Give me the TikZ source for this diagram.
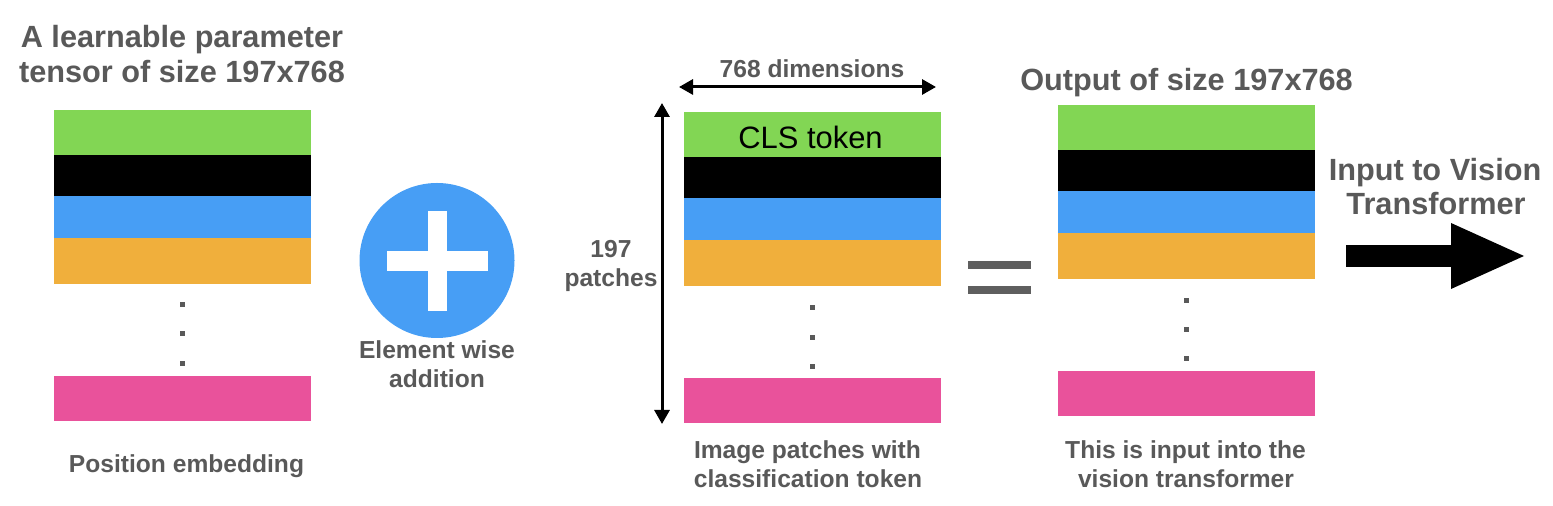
\documentclass[tikz,border=0pt]{standalone}
\usepackage{fontspec}
\setmainfont{Liberation Sans}
\usepackage{tikz}
\usetikzlibrary{arrows.meta}
\pgfdeclarelayer{edgelayer}
\pgfdeclarelayer{nodelayer}
\pgfsetlayers{edgelayer,nodelayer,main}
\definecolor{bandgreen}{RGB}{130,214,84}
\definecolor{bandblue}{RGB}{71,158,245}
\definecolor{bandorange}{RGB}{240,175,60}
\definecolor{bandpink}{RGB}{233,82,155}
\definecolor{labelgrey}{RGB}{89,89,89}
\definecolor{equalgrey}{RGB}{95,95,95}
\tikzstyle{none} = [inner sep=0pt]
\tikzstyle{title} = [anchor=base, inner sep=0pt, text=labelgrey, font=\bfseries\fontsize{8.73}{10}\selectfont]
\tikzstyle{caption} = [anchor=base, inner sep=0pt, text=labelgrey, font=\bfseries\fontsize{7}{8}\selectfont]
\tikzstyle{cls} = [anchor=base, inner sep=0pt, text=black, font=\fontsize{8.8}{10}\selectfont]
\tikzstyle{band} = [rectangle, inner sep=0pt, minimum width=2.57cm]
\tikzstyle{green band} = [band, fill=bandgreen, minimum height=0.45cm]
\tikzstyle{black band} = [band, fill=black, minimum height=0.41cm]
\tikzstyle{blue band} = [band, fill=bandblue, minimum height=0.42cm]
\tikzstyle{orange band} = [band, fill=bandorange, minimum height=0.46cm]
\tikzstyle{pink band} = [band, fill=bandpink, minimum height=0.45cm]
\tikzstyle{dot} = [rectangle, fill=labelgrey, inner sep=0pt, minimum size=0.05cm]
\tikzstyle{plus circle} = [circle, fill=bandblue, inner sep=0pt, minimum size=1.55cm]
\tikzstyle{plus vbar} = [rectangle, fill=white, inner sep=0pt, minimum width=0.19cm, minimum height=1cm]
\tikzstyle{plus hbar} = [rectangle, fill=white, inner sep=0pt, minimum width=1.01cm, minimum height=0.2cm]
\tikzstyle{equal bar} = [rectangle, fill=equalgrey, inner sep=0pt, minimum width=0.63cm, minimum height=0.08cm]
\tikzstyle{new edge style 1} = [{Triangle[length=0.14cm,width=0.15cm]}-{Triangle[length=0.14cm,width=0.15cm]}, line width=0.03cm]
\tikzstyle{big arrow} = [-{Triangle[length=0.73cm,width=0.66cm,line width=0pt]}, line width=0.22cm]

\begin{document}
\begin{tikzpicture}
	\useasboundingbox (0, 0) rectangle (15.53, -5.06);
	\begin{pgfonlayer}{nodelayer}
		\node [style=title] (0) at (1.82, -0.48) {A learnable parameter};
		\node [style=title] (1) at (1.82, -0.83) {tensor of size 197x768};
		\node [style=green band] (2) at (1.825, -1.325) {};
		\node [style=black band] (3) at (1.825, -1.755) {};
		\node [style=blue band] (4) at (1.825, -2.17) {};
		\node [style=orange band] (5) at (1.825, -2.61) {};
		\node [style=dot] (6) at (1.82, -3.05) {};
		\node [style=dot] (7) at (1.82, -3.34) {};
		\node [style=dot] (8) at (1.82, -3.64) {};
		\node [style=pink band] (9) at (1.825, -3.985) {};
		\node [style=caption] (10) at (1.865, -4.73) {Position embedding};
		\node [style=plus circle] (11) at (4.37, -2.605) {};
		\node [style=plus vbar] (12) at (4.375, -2.61) {};
		\node [style=plus hbar] (13) at (4.375, -2.61) {};
		\node [style=caption] (14) at (4.37, -3.59) {Element wise};
		\node [style=caption] (15) at (4.37, -3.88) {addition};
		\node [style=caption] (16) at (6.11, -2.58) {197};
		\node [style=caption] (17) at (6.11, -2.865) {patches};
		\node [style=none] (18) at (6.62, -1.03) {};
		\node [style=none] (19) at (6.62, -4.24) {};
		\node [style=none] (20) at (6.79, -0.87) {};
		\node [style=none] (21) at (9.36, -0.87) {};
		\node [style=caption] (22) at (8.12, -0.78) {768 dimensions};
		\node [style=green band] (23) at (8.12, -1.345) {};
		\node [style=cls] (24) at (8.105, -1.49) {CLS token};
		\node [style=black band] (25) at (8.12, -1.775) {};
		\node [style=blue band] (26) at (8.12, -2.19) {};
		\node [style=orange band] (27) at (8.12, -2.63) {};
		\node [style=dot] (28) at (8.12, -3.08) {};
		\node [style=dot] (29) at (8.12, -3.375) {};
		\node [style=dot] (30) at (8.12, -3.665) {};
		\node [style=pink band] (31) at (8.12, -4.005) {};
		\node [style=caption] (32) at (8.075, -4.59) {Image patches with};
		\node [style=caption] (33) at (8.08, -4.875) {classification token};
		\node [style=equal bar] (34) at (9.995, -2.65) {};
		\node [style=equal bar] (35) at (9.995, -2.9) {};
		\node [style=title] (36) at (11.865, -0.91) {Output of size 197x768};
		\node [style=green band] (37) at (11.865, -1.275) {};
		\node [style=black band] (38) at (11.865, -1.705) {};
		\node [style=blue band] (39) at (11.865, -2.12) {};
		\node [style=orange band] (40) at (11.865, -2.56) {};
		\node [style=dot] (41) at (11.86, -3.005) {};
		\node [style=dot] (42) at (11.86, -3.3) {};
		\node [style=dot] (43) at (11.86, -3.59) {};
		\node [style=pink band] (44) at (11.865, -3.935) {};
		\node [style=caption] (45) at (11.855, -4.59) {This is input into the};
		\node [style=caption] (46) at (11.86, -4.875) {vision transformer};
		\node [style=title] (47) at (14.35, -1.81) {Input to Vision};
		\node [style=title] (48) at (14.36, -2.15) {Transformer};
		\node [style=none] (49) at (13.46, -2.56) {};
		\node [style=none] (50) at (15.24, -2.56) {};
	\end{pgfonlayer}
	\begin{pgfonlayer}{edgelayer}
		\draw [style=new edge style 1] (18.center) to (19.center);
		\draw [style=new edge style 1] (20.center) to (21.center);
		\draw [style=big arrow] (49.center) to (50.center);
	\end{pgfonlayer}
\end{tikzpicture}
\end{document}
